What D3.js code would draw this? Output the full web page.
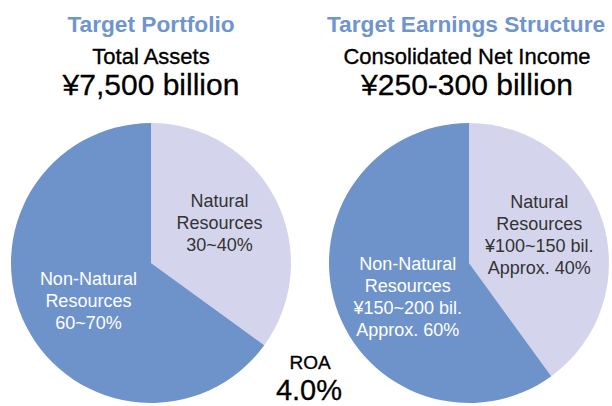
<!DOCTYPE html>
<html>
<head>
<meta charset="utf-8">
<script src="https://cdn.jsdelivr.net/npm/d3@7"></script>
<style>
  html, body { margin: 0; padding: 0; background: #fff; }
  svg { display: block; font-family: "Liberation Sans", Arial, Helvetica, sans-serif; }
</style>
</head>
<body>
<svg id="chart" width="612" height="406"></svg>
<script>
// ---- data ----
const categories = ["Natural Resources", "Non-Natural Resources"];
const portfolioShares = [35, 65];   // % of total assets
const earningsShares = [40, 60];    // % of consolidated net income
const chartTitles = ["Target Portfolio", "Target Earnings Structure"];
const metricNames = ["Total Assets", "Consolidated Net Income"];
const metricValues = ["¥7,500 billion", "¥250-300 billion"];
const portfolioLabels = [
  ["Natural", "Resources", "30~40%"],
  ["Non-Natural", "Resources", "60~70%"]
];
const earningsLabels = [
  ["Natural", "Resources", "¥100~150 bil.", "Approx. 40%"],
  ["Non-Natural", "Resources", "¥150~200 bil.", "Approx. 60%"]
];
const roaLabel = "ROA";
const roaValue = "4.0%";

// ---- style / layout ----
const colors = d3.scaleOrdinal().domain(categories).range(["#d4d5ec", "#6e93cb"]);
const textColors = d3.scaleOrdinal().domain(categories).range(["#333333", "#ffffff"]);
const R = 140;
const panels = [
  { cx: 151, cy: 263, shares: portfolioShares, labels: portfolioLabels,
    nudges: [[0, -6], [6, 3]], titleX: 151, subX: 151 },
  { cx: 469, cy: 263, shares: earningsShares, labels: earningsLabels,
    nudges: [[-3, -5], [12, 10]], titleX: 466, subX: 467 }
];
const lineH = 22;

const svg = d3.select("#chart");
const pie = d3.pie().sort(null).value(d => d.value);
const arc = d3.arc().innerRadius(0).outerRadius(R);
const labelArc = d3.arc().innerRadius(R * 0.55).outerRadius(R * 0.55);

panels.forEach((p, i) => {
  // headings
  svg.append("text").attr("x", p.titleX).attr("y", 32)
    .attr("text-anchor", "middle").attr("fill", "#6f95cf")
    .style("font-size", "22.7px").style("font-weight", "bold")
    .text(chartTitles[i]);
  svg.append("text").attr("x", p.subX).attr("y", 64)
    .attr("text-anchor", "middle").attr("fill", "#000")
    .attr("stroke", "#000").attr("stroke-width", 0.35)
    .style("font-size", "22px")
    .text(metricNames[i]);
  svg.append("text").attr("x", p.subX).attr("y", 95)
    .attr("text-anchor", "middle").attr("fill", "#000")
    .attr("stroke", "#000").attr("stroke-width", 0.3)
    .style("font-size", "30px")
    .text(metricValues[i]);

  const data = categories.map((c, k) => ({ cat: c, value: p.shares[k], lines: p.labels[k], nudge: p.nudges[k] }));
  const g = svg.append("g").attr("transform", `translate(${p.cx},${p.cy})`);
  const arcs = pie(data);

  g.selectAll("path").data(arcs).join("path")
    .attr("d", arc)
    .attr("fill", d => colors(d.data.cat));

  arcs.forEach(a => {
    const [x, y] = labelArc.centroid(a);
    const lx = x + a.data.nudge[0], ly = y + a.data.nudge[1];
    const n = a.data.lines.length;
    const t = g.append("text")
      .attr("text-anchor", "middle")
      .attr("fill", textColors(a.data.cat))
      .style("font-size", "18px");
    a.data.lines.forEach((ln, j) => {
      t.append("tspan").attr("x", lx)
        .attr("y", ly + (j - (n - 1) / 2) * lineH + 6.5)
        .text(ln);
    });
  });
});

// ROA
svg.append("text").attr("x", 310).attr("y", 369)
  .attr("text-anchor", "middle").attr("fill", "#000")
  .attr("stroke", "#000").attr("stroke-width", 0.35)
  .style("font-size", "19px").text(roaLabel);
svg.append("text").attr("x", 309).attr("y", 400)
  .attr("text-anchor", "middle").attr("fill", "#000")
  .attr("stroke", "#000").attr("stroke-width", 0.3)
  .style("font-size", "29px").text(roaValue);
</script>
</body>
</html>
